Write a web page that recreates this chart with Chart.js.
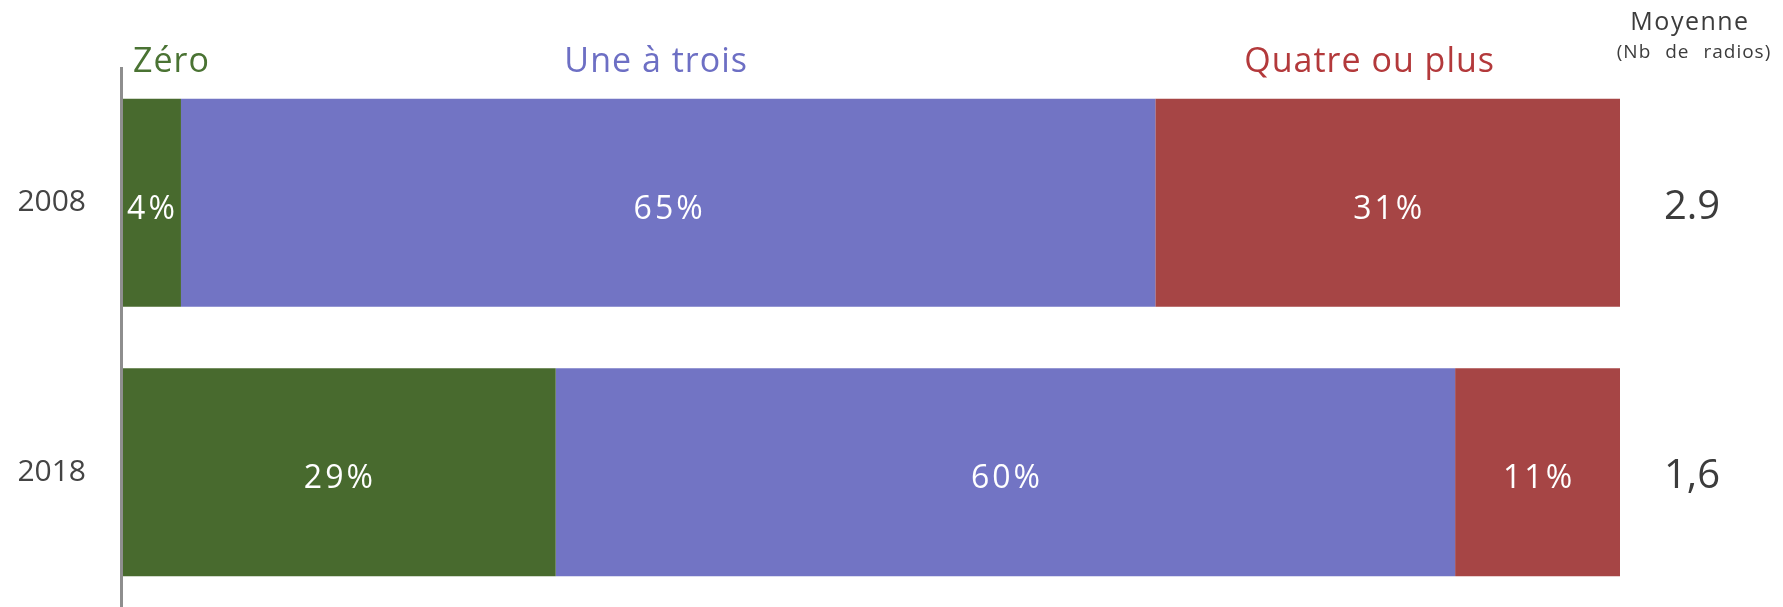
<!DOCTYPE html>
<html>
<head>
<meta charset="utf-8">
<script src="https://cdn.jsdelivr.net/npm/chart.js@4/dist/chart.umd.min.js"></script>
<style>
  html, body { margin: 0; padding: 0; background: #fff; overflow: hidden; }
  #wrap { position: relative; width: 1783px; height: 607px; }
</style>
</head>
<body>
<div id="wrap"><canvas id="chart"></canvas></div>
<script>
// ── data ──────────────────────────────────────
const years       = ['2008', '2018'];
const seriesNames = ['Zéro', 'Une à trois', 'Quatre ou plus'];
const zero        = [4, 29];
const oneToThree  = [65, 60];
const fourPlus    = [31, 11];
const averages    = ['2.9', '1,6'];
const avgTitle    = 'Moyenne';
const avgSubtitle = '(Nb de radios)';

const barColors  = ['#486a2e', '#7274c4', '#a64545'];
const textColors = ['#4a7333', '#6d6fc4', '#b3393b'];
const FONT = '"Open Sans", "Noto Sans", sans-serif';

// ── labels drawn on top of the bars ───────────
const overlay = {
  id: 'overlay',
  afterDatasetsDraw(chart, args, opts) {
    const { ctx, chartArea, scales: { x } } = chart;
    ctx.save();

    // percentages inside segments
    ctx.fillStyle = '#fff';
    ctx.font = '32px ' + FONT;
    ctx.letterSpacing = '3px';
    ctx.textAlign = 'center';
    ctx.textBaseline = 'alphabetic';
    chart.data.datasets.forEach((ds, i) => {
      chart.getDatasetMeta(i).data.forEach((bar, j) => {
        ctx.fillText(ds.data[j] + '%', (bar.base + bar.x) / 2 + 1.5, bar.y + 16);
      });
    });

    // series headers above the bars
    ctx.font = '34px ' + FONT;
    ctx.letterSpacing = '1px';
    chart.data.datasets.forEach((ds, i) => {
      ctx.fillStyle = textColors[i];
      const at = opts.headerAt[i];
      if (at === null) {
        ctx.textAlign = 'left';
        ctx.fillText(ds.label, chartArea.left + 12, 72);
      } else {
        ctx.textAlign = 'center';
        ctx.fillText(ds.label, x.getPixelForValue(at), 72);
      }
    });

    // average column
    const cx = opts.avgX;
    ctx.textAlign = 'center';
    ctx.fillStyle = '#3c3c3c';
    ctx.font = '25px ' + FONT;
    ctx.letterSpacing = '1.5px';
    ctx.fillText(avgTitle, cx, 30);
    ctx.font = '19px ' + FONT;
    ctx.letterSpacing = '1px';
    ctx.wordSpacing = '8px';
    ctx.fillText(avgSubtitle, cx + 4, 58);
    ctx.wordSpacing = '0px';
    ctx.font = '40px ' + FONT;
    ctx.letterSpacing = '0px';
    const meta = chart.getDatasetMeta(0);
    meta.data.forEach((bar, j) => {
      ctx.fillText(averages[j], cx + 2, bar.y + 16);
    });

    ctx.restore();
  }
};

new Chart(document.getElementById('chart'), {
  type: 'bar',
  data: {
    labels: years,
    datasets: [
      { label: seriesNames[0], data: zero,       backgroundColor: barColors[0] },
      { label: seriesNames[1], data: oneToThree, backgroundColor: barColors[1] },
      { label: seriesNames[2], data: fourPlus,   backgroundColor: barColors[2] }
    ]
  },
  options: {
    indexAxis: 'y',
    responsive: true,
    maintainAspectRatio: false,
    animation: false,
    devicePixelRatio: 1,
    layout: { padding: { top: 68, right: 163, bottom: 0, left: 0 } },
    datasets: {
      bar: { barPercentage: 0.772, categoryPercentage: 1, borderWidth: 0 }
    },
    scales: {
      x: { stacked: true, min: 0, max: 100, display: false },
      y: {
        stacked: true,
        grid: { display: false, lineWidth: 0, drawTicks: false },
        border: { display: true, color: '#8e8e8e', width: 3, z: 1 },
        ticks: {
          color: '#444',
          padding: 35,
          font: { family: FONT, size: 30 }
        },
        // fixed axis width, and no extra room reserved above/below for labels
        afterFit: (s) => { s.width = 121; s.paddingTop = 0; s.paddingBottom = 0; }
      }
    },
    plugins: {
      legend: { display: false },
      tooltip: { enabled: false },
      overlay: { headerAt: [null, 35.7, 83.3], avgX: 1690 }
    }
  },
  plugins: [overlay]
});
</script>
</body>
</html>
